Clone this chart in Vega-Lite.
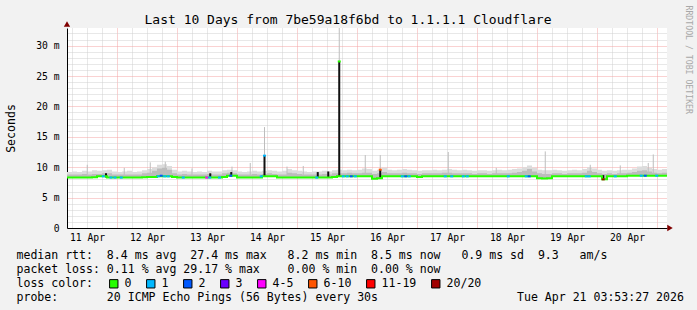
{
  "$schema": "https://vega.github.io/schema/vega-lite/v6.json",
  "width": 600,
  "height": 200,
  "autosize": {"type": "none"},
  "padding": {"left": 67, "top": 28, "right": 30, "bottom": 82},
  "background": "#f2f2f2",
  "config": {
    "view": {"fill": "#ffffff", "stroke": null},
    "axis": {"labelFont": "DejaVu Sans Mono", "titleFont": "DejaVu Sans Mono", "titleFontWeight": "normal", "labelColor": "#000000", "titleColor": "#000000"}
  },
  "datasets": {
    "series": [
      {"t":"2026-04-11T03:50:00Z","m":8.3,"hi":9.2,"d":8.8},
      {"t":"2026-04-11T06:00:00Z","m":8.3,"hi":9.3,"d":8.8},
      {"t":"2026-04-11T08:00:00Z","m":8.3,"hi":9.2,"d":8.8},
      {"t":"2026-04-11T10:00:00Z","m":8.3,"hi":9.4,"d":8.9},
      {"t":"2026-04-11T12:00:00Z","m":8.3,"hi":9.3,"d":8.8},
      {"t":"2026-04-11T14:00:00Z","m":8.35,"hi":9.5,"d":8.9},
      {"t":"2026-04-11T16:00:00Z","m":8.5,"hi":9.4,"d":8.9},
      {"t":"2026-04-11T18:00:00Z","m":8.5,"hi":9.5,"d":9.0},
      {"t":"2026-04-11T20:00:00Z","m":8.3,"hi":9.6,"d":9.0},
      {"t":"2026-04-11T22:00:00Z","m":8.3,"hi":9.3,"d":8.8},
      {"t":"2026-04-12T00:00:00Z","m":8.3,"hi":9.2,"d":8.8},
      {"t":"2026-04-12T02:00:00Z","m":8.3,"hi":9.3,"d":8.8},
      {"t":"2026-04-12T04:00:00Z","m":8.3,"hi":9.4,"d":8.8},
      {"t":"2026-04-12T06:00:00Z","m":8.3,"hi":9.2,"d":8.8},
      {"t":"2026-04-12T08:00:00Z","m":8.3,"hi":9.3,"d":8.8},
      {"t":"2026-04-12T10:00:00Z","m":8.35,"hi":9.5,"d":9.0},
      {"t":"2026-04-12T12:00:00Z","m":8.4,"hi":9.7,"d":9.1},
      {"t":"2026-04-12T14:00:00Z","m":8.4,"hi":10.0,"d":9.4},
      {"t":"2026-04-12T16:00:00Z","m":8.5,"hi":10.4,"d":9.8},
      {"t":"2026-04-12T18:00:00Z","m":8.5,"hi":10.5,"d":9.9},
      {"t":"2026-04-12T20:00:00Z","m":8.5,"hi":10.2,"d":9.6},
      {"t":"2026-04-12T22:00:00Z","m":8.4,"hi":9.6,"d":9.0},
      {"t":"2026-04-13T00:00:00Z","m":8.3,"hi":9.3,"d":8.8},
      {"t":"2026-04-13T02:00:00Z","m":8.3,"hi":9.4,"d":8.9},
      {"t":"2026-04-13T04:00:00Z","m":8.3,"hi":9.3,"d":8.8},
      {"t":"2026-04-13T06:00:00Z","m":8.3,"hi":9.2,"d":8.8},
      {"t":"2026-04-13T08:00:00Z","m":8.3,"hi":9.3,"d":8.8},
      {"t":"2026-04-13T10:00:00Z","m":8.3,"hi":9.2,"d":8.8},
      {"t":"2026-04-13T12:00:00Z","m":8.3,"hi":9.4,"d":8.9},
      {"t":"2026-04-13T14:00:00Z","m":8.3,"hi":9.3,"d":8.8},
      {"t":"2026-04-13T16:00:00Z","m":8.3,"hi":9.3,"d":8.8},
      {"t":"2026-04-13T18:00:00Z","m":8.4,"hi":9.5,"d":9.0},
      {"t":"2026-04-13T20:00:00Z","m":8.6,"hi":9.6,"d":9.1},
      {"t":"2026-04-13T22:00:00Z","m":8.6,"hi":9.5,"d":9.0},
      {"t":"2026-04-14T00:00:00Z","m":8.3,"hi":9.3,"d":8.8},
      {"t":"2026-04-14T02:00:00Z","m":8.3,"hi":9.2,"d":8.8},
      {"t":"2026-04-14T04:00:00Z","m":8.3,"hi":9.3,"d":8.8},
      {"t":"2026-04-14T06:00:00Z","m":8.3,"hi":9.4,"d":8.9},
      {"t":"2026-04-14T08:00:00Z","m":8.3,"hi":9.3,"d":8.8},
      {"t":"2026-04-14T10:00:00Z","m":8.5,"hi":9.4,"d":8.9},
      {"t":"2026-04-14T12:00:00Z","m":8.5,"hi":9.5,"d":9.0},
      {"t":"2026-04-14T14:00:00Z","m":8.5,"hi":9.4,"d":8.9},
      {"t":"2026-04-14T16:00:00Z","m":8.3,"hi":9.3,"d":8.8},
      {"t":"2026-04-14T18:00:00Z","m":8.3,"hi":9.4,"d":8.8},
      {"t":"2026-04-14T20:00:00Z","m":8.3,"hi":9.7,"d":9.1},
      {"t":"2026-04-14T22:00:00Z","m":8.3,"hi":9.5,"d":9.0},
      {"t":"2026-04-15T00:00:00Z","m":8.3,"hi":9.4,"d":8.9},
      {"t":"2026-04-15T02:00:00Z","m":8.3,"hi":9.3,"d":8.8},
      {"t":"2026-04-15T04:00:00Z","m":8.3,"hi":9.2,"d":8.8},
      {"t":"2026-04-15T06:00:00Z","m":8.3,"hi":9.3,"d":8.8},
      {"t":"2026-04-15T08:00:00Z","m":8.3,"hi":9.3,"d":8.8},
      {"t":"2026-04-15T10:00:00Z","m":8.3,"hi":9.4,"d":8.9},
      {"t":"2026-04-15T12:00:00Z","m":8.3,"hi":9.3,"d":8.8},
      {"t":"2026-04-15T14:00:00Z","m":8.4,"hi":9.5,"d":9.0},
      {"t":"2026-04-15T16:00:00Z","m":8.5,"hi":9.6,"d":9.0},
      {"t":"2026-04-15T18:00:00Z","m":8.5,"hi":9.5,"d":9.0},
      {"t":"2026-04-15T20:00:00Z","m":8.5,"hi":9.6,"d":9.1},
      {"t":"2026-04-15T22:00:00Z","m":8.5,"hi":9.5,"d":9.0},
      {"t":"2026-04-16T00:00:00Z","m":8.5,"hi":9.6,"d":9.0},
      {"t":"2026-04-16T02:00:00Z","m":8.5,"hi":9.8,"d":9.1},
      {"t":"2026-04-16T04:00:00Z","m":8.5,"hi":9.7,"d":9.1},
      {"t":"2026-04-16T06:00:00Z","m":8.1,"hi":9.4,"d":8.9},
      {"t":"2026-04-16T08:00:00Z","m":8.2,"hi":9.6,"d":9.0},
      {"t":"2026-04-16T10:00:00Z","m":8.5,"hi":9.9,"d":9.2},
      {"t":"2026-04-16T12:00:00Z","m":8.5,"hi":9.6,"d":9.0},
      {"t":"2026-04-16T14:00:00Z","m":8.5,"hi":9.5,"d":9.0},
      {"t":"2026-04-16T16:00:00Z","m":8.5,"hi":9.6,"d":9.0},
      {"t":"2026-04-16T18:00:00Z","m":8.5,"hi":9.7,"d":9.1},
      {"t":"2026-04-16T20:00:00Z","m":8.5,"hi":9.6,"d":9.0},
      {"t":"2026-04-16T22:00:00Z","m":8.5,"hi":9.5,"d":9.0},
      {"t":"2026-04-17T00:00:00Z","m":8.4,"hi":9.4,"d":8.9},
      {"t":"2026-04-17T02:00:00Z","m":8.5,"hi":9.5,"d":9.0},
      {"t":"2026-04-17T04:00:00Z","m":8.5,"hi":9.5,"d":9.0},
      {"t":"2026-04-17T06:00:00Z","m":8.5,"hi":9.6,"d":9.0},
      {"t":"2026-04-17T08:00:00Z","m":8.5,"hi":9.5,"d":9.0},
      {"t":"2026-04-17T10:00:00Z","m":8.5,"hi":9.6,"d":9.1},
      {"t":"2026-04-17T12:00:00Z","m":8.5,"hi":9.7,"d":9.1},
      {"t":"2026-04-17T14:00:00Z","m":8.5,"hi":9.6,"d":9.0},
      {"t":"2026-04-17T16:00:00Z","m":8.5,"hi":9.5,"d":9.0},
      {"t":"2026-04-17T18:00:00Z","m":8.5,"hi":9.6,"d":9.0},
      {"t":"2026-04-17T20:00:00Z","m":8.5,"hi":9.5,"d":9.0},
      {"t":"2026-04-17T22:00:00Z","m":8.5,"hi":9.4,"d":8.9},
      {"t":"2026-04-18T00:00:00Z","m":8.5,"hi":9.5,"d":9.0},
      {"t":"2026-04-18T02:00:00Z","m":8.5,"hi":9.5,"d":9.0},
      {"t":"2026-04-18T04:00:00Z","m":8.5,"hi":9.4,"d":8.9},
      {"t":"2026-04-18T06:00:00Z","m":8.5,"hi":9.5,"d":9.0},
      {"t":"2026-04-18T08:00:00Z","m":8.5,"hi":9.6,"d":9.0},
      {"t":"2026-04-18T10:00:00Z","m":8.5,"hi":9.5,"d":9.0},
      {"t":"2026-04-18T12:00:00Z","m":8.5,"hi":9.6,"d":9.0},
      {"t":"2026-04-18T14:00:00Z","m":8.5,"hi":9.7,"d":9.1},
      {"t":"2026-04-18T16:00:00Z","m":8.5,"hi":9.8,"d":9.2},
      {"t":"2026-04-18T18:00:00Z","m":8.5,"hi":10.0,"d":9.4},
      {"t":"2026-04-18T20:00:00Z","m":8.5,"hi":10.3,"d":9.7},
      {"t":"2026-04-18T22:00:00Z","m":8.5,"hi":9.9,"d":9.3},
      {"t":"2026-04-19T00:00:00Z","m":8.2,"hi":9.6,"d":9.0},
      {"t":"2026-04-19T02:00:00Z","m":8.15,"hi":9.5,"d":8.9},
      {"t":"2026-04-19T04:00:00Z","m":8.2,"hi":9.5,"d":8.9},
      {"t":"2026-04-19T06:00:00Z","m":8.5,"hi":9.6,"d":9.0},
      {"t":"2026-04-19T08:00:00Z","m":8.5,"hi":9.5,"d":9.0},
      {"t":"2026-04-19T10:00:00Z","m":8.5,"hi":9.4,"d":8.9},
      {"t":"2026-04-19T12:00:00Z","m":8.5,"hi":9.5,"d":9.0},
      {"t":"2026-04-19T14:00:00Z","m":8.5,"hi":9.6,"d":9.0},
      {"t":"2026-04-19T16:00:00Z","m":8.5,"hi":9.5,"d":9.0},
      {"t":"2026-04-19T18:00:00Z","m":8.5,"hi":9.7,"d":9.1},
      {"t":"2026-04-19T20:00:00Z","m":8.5,"hi":10.0,"d":9.4},
      {"t":"2026-04-19T22:00:00Z","m":8.5,"hi":9.8,"d":9.2},
      {"t":"2026-04-20T00:00:00Z","m":8.5,"hi":9.6,"d":9.0},
      {"t":"2026-04-20T02:00:00Z","m":8.0,"hi":9.4,"d":8.9},
      {"t":"2026-04-20T04:00:00Z","m":8.5,"hi":9.5,"d":9.0},
      {"t":"2026-04-20T06:00:00Z","m":8.5,"hi":9.4,"d":8.9},
      {"t":"2026-04-20T08:00:00Z","m":8.5,"hi":9.5,"d":9.0},
      {"t":"2026-04-20T10:00:00Z","m":8.5,"hi":9.6,"d":9.0},
      {"t":"2026-04-20T12:00:00Z","m":8.6,"hi":9.6,"d":9.1},
      {"t":"2026-04-20T14:00:00Z","m":8.6,"hi":9.8,"d":9.2},
      {"t":"2026-04-20T16:00:00Z","m":8.6,"hi":10.1,"d":9.4},
      {"t":"2026-04-20T18:00:00Z","m":8.6,"hi":10.2,"d":9.5},
      {"t":"2026-04-20T20:00:00Z","m":8.6,"hi":9.9,"d":9.3},
      {"t":"2026-04-20T22:00:00Z","m":8.6,"hi":9.7,"d":9.1},
      {"t":"2026-04-21T00:00:00Z","m":8.6,"hi":9.6,"d":9.0},
      {"t":"2026-04-21T02:00:00Z","m":8.6,"hi":9.7,"d":9.1},
      {"t":"2026-04-21T04:00:00Z","m":8.6,"hi":9.7,"d":9.1}
    ],
    "spikes": [
      {"t":"2026-04-11T12:06:00Z","b":8.4,"top":10.4},
      {"t":"2026-04-12T02:54:00Z","b":8.4,"top":9.9},
      {"t":"2026-04-12T13:18:00Z","b":8.4,"top":10.8},
      {"t":"2026-04-12T19:18:00Z","b":8.5,"top":10.9},
      {"t":"2026-04-13T06:00:00Z","b":8.4,"top":9.8},
      {"t":"2026-04-13T22:00:00Z","b":8.5,"top":10.1},
      {"t":"2026-04-14T05:18:00Z","b":8.4,"top":10.7},
      {"t":"2026-04-14T11:00:00Z","b":8.5,"top":16.6},
      {"t":"2026-04-14T20:00:00Z","b":8.4,"top":10.1},
      {"t":"2026-04-15T02:30:00Z","b":8.4,"top":10.2},
      {"t":"2026-04-15T16:54:00Z","b":8.5,"top":34},
      {"t":"2026-04-16T03:18:00Z","b":8.5,"top":12.0},
      {"t":"2026-04-16T09:18:00Z","b":8.5,"top":12.0},
      {"t":"2026-04-17T12:30:00Z","b":8.5,"top":12.5},
      {"t":"2026-04-18T07:42:00Z","b":8.5,"top":9.9},
      {"t":"2026-04-19T03:18:00Z","b":8.3,"top":12.6},
      {"t":"2026-04-19T21:18:00Z","b":8.5,"top":10.4},
      {"t":"2026-04-20T09:18:00Z","b":8.5,"top":10.3},
      {"t":"2026-04-20T20:30:00Z","b":8.6,"top":10.7},
      {"t":"2026-04-20T22:30:00Z","b":8.6,"top":12.1}
    ],
    "bars": [
      {"t":"2026-04-11T19:36:00Z","b":8.3,"top":9.0},
      {"t":"2026-04-13T13:18:00Z","b":8.3,"top":9.0},
      {"t":"2026-04-13T21:42:00Z","b":8.4,"top":9.2},
      {"t":"2026-04-14T11:00:00Z","b":8.5,"top":11.9},
      {"t":"2026-04-15T08:18:00Z","b":8.3,"top":9.2},
      {"t":"2026-04-15T12:30:00Z","b":8.3,"top":9.3},
      {"t":"2026-04-15T16:54:00Z","b":8.4,"top":27.4},
      {"t":"2026-04-16T09:18:00Z","b":8.3,"top":9.6},
      {"t":"2026-04-20T02:30:00Z","b":8.0,"top":8.7}
    ],
    "ticks": [
      {"t":"2026-04-11T18:30:00Z","m":8.5,"loss":"1"},
      {"t":"2026-04-11T21:36:00Z","m":8.3,"loss":"1"},
      {"t":"2026-04-11T23:12:00Z","m":8.3,"loss":"1"},
      {"t":"2026-04-12T01:42:00Z","m":8.3,"loss":"1"},
      {"t":"2026-04-12T16:30:00Z","m":8.5,"loss":"1"},
      {"t":"2026-04-12T17:42:00Z","m":8.6,"loss":"2"},
      {"t":"2026-04-12T19:06:00Z","m":8.5,"loss":"1"},
      {"t":"2026-04-12T20:30:00Z","m":8.5,"loss":"1"},
      {"t":"2026-04-13T02:30:00Z","m":8.3,"loss":"1"},
      {"t":"2026-04-13T11:54:00Z","m":8.3,"loss":"4-5"},
      {"t":"2026-04-13T13:06:00Z","m":8.3,"loss":"1"},
      {"t":"2026-04-13T17:00:00Z","m":8.3,"loss":"1"},
      {"t":"2026-04-13T21:30:00Z","m":8.6,"loss":"2"},
      {"t":"2026-04-14T09:42:00Z","m":8.5,"loss":"1"},
      {"t":"2026-04-14T11:00:00Z","m":11.9,"loss":"1"},
      {"t":"2026-04-15T07:54:00Z","m":8.3,"loss":"1"},
      {"t":"2026-04-15T16:54:00Z","m":27.4,"loss":"0"},
      {"t":"2026-04-15T18:30:00Z","m":8.5,"loss":"1"},
      {"t":"2026-04-15T20:06:00Z","m":8.5,"loss":"1"},
      {"t":"2026-04-15T21:42:00Z","m":8.5,"loss":"2"},
      {"t":"2026-04-15T23:18:00Z","m":8.5,"loss":"1"},
      {"t":"2026-04-16T09:18:00Z","m":9.6,"loss":"6-10"},
      {"t":"2026-04-16T18:06:00Z","m":8.5,"loss":"1"},
      {"t":"2026-04-16T19:30:00Z","m":8.5,"loss":"2"},
      {"t":"2026-04-16T20:54:00Z","m":8.5,"loss":"1"},
      {"t":"2026-04-17T11:18:00Z","m":8.5,"loss":"1"},
      {"t":"2026-04-17T13:54:00Z","m":8.5,"loss":"1"},
      {"t":"2026-04-17T18:30:00Z","m":8.5,"loss":"1"},
      {"t":"2026-04-17T20:06:00Z","m":8.5,"loss":"1"},
      {"t":"2026-04-18T12:30:00Z","m":8.5,"loss":"1"},
      {"t":"2026-04-18T19:42:00Z","m":8.5,"loss":"1"},
      {"t":"2026-04-18T20:54:00Z","m":8.5,"loss":"2"},
      {"t":"2026-04-19T19:42:00Z","m":8.5,"loss":"1"},
      {"t":"2026-04-19T20:54:00Z","m":8.5,"loss":"1"},
      {"t":"2026-04-20T02:30:00Z","m":8.0,"loss":"20/20"},
      {"t":"2026-04-20T07:18:00Z","m":8.5,"loss":"1"},
      {"t":"2026-04-20T17:42:00Z","m":8.6,"loss":"1"},
      {"t":"2026-04-20T19:18:00Z","m":8.6,"loss":"2"},
      {"t":"2026-04-20T23:54:00Z","m":8.6,"loss":"1"}
    ]
  },
  "resolve": {"axis": {"x": "independent", "y": "independent"}},
  "layer": [
    {
      "data": {"name": "series"},
      "mark": {"type": "area", "interpolate": "step-after", "color": "#dcdcdc", "clip": true},
      "encoding": {
        "x": {
          "field": "t", "type": "temporal",
          "scale": {"type": "utc", "domain": [1775880000000, 1776744000000], "nice": false},
          "axis": {
            "orient": "bottom",
            "values": [1775887200000,1775908800000,1775930400000,1775952000000,1775973600000,1775995200000,1776016800000,1776038400000,1776060000000,1776081600000,1776103200000,1776124800000,1776146400000,1776168000000,1776189600000,1776211200000,1776232800000,1776254400000,1776276000000,1776297600000,1776319200000,1776340800000,1776362400000,1776384000000,1776405600000,1776427200000,1776448800000,1776470400000,1776492000000,1776513600000,1776535200000,1776556800000,1776578400000,1776600000000,1776621600000,1776643200000,1776664800000,1776686400000,1776708000000,1776729600000],
            "labelExpr": "utchours(datum.value) == 12 ? utcFormat(datum.value, '%d %b') : ''",
            "labelOverlap": false, "labelFlush": false, "labelBound": false,
            "labelFontSize": 9.7, "labelBaseline": "middle", "labelPadding": 9, "labelAngle": 0,
            "ticks": false, "tickSize": 0,
            "grid": true,
            "gridColor": {"condition": {"test": "utchours(datum.value) == 0", "value": "#f4a4a4"}, "value": "#d0d0d0"},
            "gridDash": [1, 1], "gridWidth": 1,
            "domain": true, "domainColor": "#000000", "domainWidth": 1,
            "title": [
              "median rtt:\u00a0\u00a08.4 ms avg\u00a0\u00a027.4 ms max\u00a0\u00a0\u00a08.2 ms min\u00a0\u00a08.5 ms now\u00a0\u00a0\u00a00.9 ms sd\u00a0\u00a09.3\u00a0\u00a0\u00a0am/s",
              "packet loss: 0.11 % avg 29.17 % max\u00a0\u00a0\u00a0\u00a00.00 % min\u00a0\u00a00.00 % now"
            ],
            "titleX": -51, "titleY": 30, "titleAlign": "left", "titleAnchor": "start", "titleBaseline": "alphabetic",
            "titleAngle": 0, "titleFontSize": 11.55, "titleLineHeight": 14
          }
        },
        "y": {
          "field": "m", "type": "quantitative",
          "scale": {"domain": [0, 32.9], "nice": false, "zero": true},
          "axis": {
            "orient": "left",
            "values": [0,1,2,3,4,5,6,7,8,9,10,11,12,13,14,15,16,17,18,19,20,21,22,23,24,25,26,27,28,29,30,31,32],
            "labelExpr": "datum.value % 5 == 0 ? (datum.value == 0 ? '0' : datum.value + ' m') : ''",
            "labelOverlap": false, "labelFlush": false, "labelBound": false,
            "labelFontSize": 9.7, "labelBaseline": "middle", "labelPadding": 8, "labelAlign": "right",
            "ticks": false, "tickSize": 0,
            "grid": true,
            "gridColor": {"condition": {"test": "datum.value % 5 == 0", "value": "#f4a4a4"}, "value": "#d0d0d0"},
            "gridDash": [1, 1], "gridWidth": 1,
            "domain": true, "domainColor": "#000000", "domainWidth": 1,
            "title": "Seconds",
            "titleX": -56, "titleY": 100, "titleAngle": -90, "titleAlign": "center", "titleBaseline": "middle",
            "titleFontSize": 11.55
          }
        },
        "y2": {"field": "hi"}
      }
    },
    {
      "data": {"name": "series"},
      "mark": {"type": "area", "interpolate": "step-after", "color": "#bcbcbc", "clip": true},
      "encoding": {
        "x": {
          "field": "t", "type": "temporal",
          "axis": {
            "orient": "bottom", "labels": false, "ticks": false, "domain": false, "grid": false,
            "title": "probe:\u00a0\u00a0\u00a0\u00a0\u00a0\u00a0\u00a020 ICMP Echo Pings (56 Bytes) every 30s\u00a0\u00a0\u00a0\u00a0\u00a0\u00a0\u00a0\u00a0\u00a0\u00a0\u00a0\u00a0\u00a0\u00a0\u00a0\u00a0\u00a0\u00a0\u00a0\u00a0Tue Apr 21 03:53:27 2026",
            "titleX": -51, "titleY": 72, "titleAlign": "left", "titleAnchor": "start", "titleBaseline": "alphabetic",
            "titleAngle": 0, "titleFontSize": 11.55
          }
        },
        "y": {"field": "m", "type": "quantitative", "axis": null},
        "y2": {"field": "d"}
      }
    },
    {
      "data": {"name": "spikes"},
      "mark": {"type": "rule", "color": "#bdbdbd", "strokeWidth": 1, "clip": true},
      "encoding": {
        "x": {
          "field": "t", "type": "temporal",
          "axis": {
            "orient": "bottom", "labels": false, "ticks": false, "domain": false, "grid": false,
            "title": "loss color:",
            "titleX": -51, "titleY": 58, "titleAlign": "left", "titleAnchor": "start", "titleBaseline": "alphabetic",
            "titleAngle": 0, "titleFontSize": 11.55
          }
        },
        "y": {"field": "b", "type": "quantitative", "axis": null},
        "y2": {"field": "top"}
      }
    },
    {
      "data": {"name": "bars"},
      "mark": {"type": "rule", "color": "#111111", "strokeWidth": 2, "clip": true},
      "encoding": {
        "x": {"field": "t", "type": "temporal", "axis": null},
        "y": {"field": "b", "type": "quantitative", "axis": null},
        "y2": {"field": "top"}
      }
    },
    {
      "data": {"name": "series"},
      "mark": {"type": "line", "interpolate": "step-after", "color": "#26ff00", "strokeWidth": 2, "clip": true},
      "encoding": {
        "x": {
          "field": "t", "type": "temporal",
          "axis": {
            "orient": "top", "labels": false, "ticks": false, "domain": false, "grid": false,
            "title": "Last 10 Days from 7be59a18f6bd to 1.1.1.1 Cloudflare",
            "titleX": 280.5, "titleY": -4.5, "titleAlign": "center", "titleAnchor": "middle", "titleBaseline": "alphabetic",
            "titleAngle": 0, "titleFontSize": 13
          }
        },
        "y": {
          "field": "m", "type": "quantitative",
          "axis": {
            "orient": "right", "labels": false, "ticks": false, "domain": false, "grid": false,
            "title": "RRDTOOL / TOBI OETIKER",
            "titleX": 20, "titleY": -23, "titleAngle": 90, "titleAlign": "left", "titleBaseline": "middle",
            "titleFontSize": 8.2, "titleColor": "#a8a8a8"
          }
        }
      }
    },
    {
      "data": {"name": "ticks"},
      "mark": {"type": "tick", "orient": "horizontal", "size": 3, "thickness": 2, "opacity": 1, "clip": true},
      "encoding": {
        "x": {"field": "t", "type": "temporal", "axis": null},
        "y": {"field": "m", "type": "quantitative", "axis": null},
        "color": {
          "field": "loss", "type": "nominal",
          "scale": {
            "domain": ["0", "1", "2", "3", "4-5", "6-10", "11-19", "20/20"],
            "range": ["#26ff00", "#00b8ff", "#0059ff", "#6a00ff", "#ff00ff", "#ff5500", "#ff0000", "#a10000"]
          },
          "legend": {
            "orient": "none", "legendX": 41, "legendY": 250, "direction": "horizontal", "title": null,
            "symbolType": "square", "symbolSize": 70, "symbolStrokeColor": "#000000", "symbolStrokeWidth": 1,
            "symbolOpacity": 1,
            "labelFont": "DejaVu Sans Mono", "labelFontSize": 11.55, "labelColor": "#000000",
            "labelOffset": 5, "columnPadding": 12, "padding": 0
          }
        }
      }
    },
    {
      "data": {"values": [{"t": 1776744000000, "v": 0}]},
      "mark": {"type": "point", "shape": "triangle-right", "filled": true, "size": 40, "color": "#800000", "opacity": 1, "xOffset": 3},
      "encoding": {
        "x": {"field": "t", "type": "temporal", "axis": null},
        "y": {"field": "v", "type": "quantitative", "axis": null}
      }
    },
    {
      "data": {"values": [{"t": 1775880000000, "v": 32.9}]},
      "mark": {"type": "point", "shape": "triangle-up", "filled": true, "size": 40, "color": "#800000", "opacity": 1, "yOffset": -4},
      "encoding": {
        "x": {"field": "t", "type": "temporal", "axis": null},
        "y": {"field": "v", "type": "quantitative", "axis": null}
      }
    }
  ]
}
